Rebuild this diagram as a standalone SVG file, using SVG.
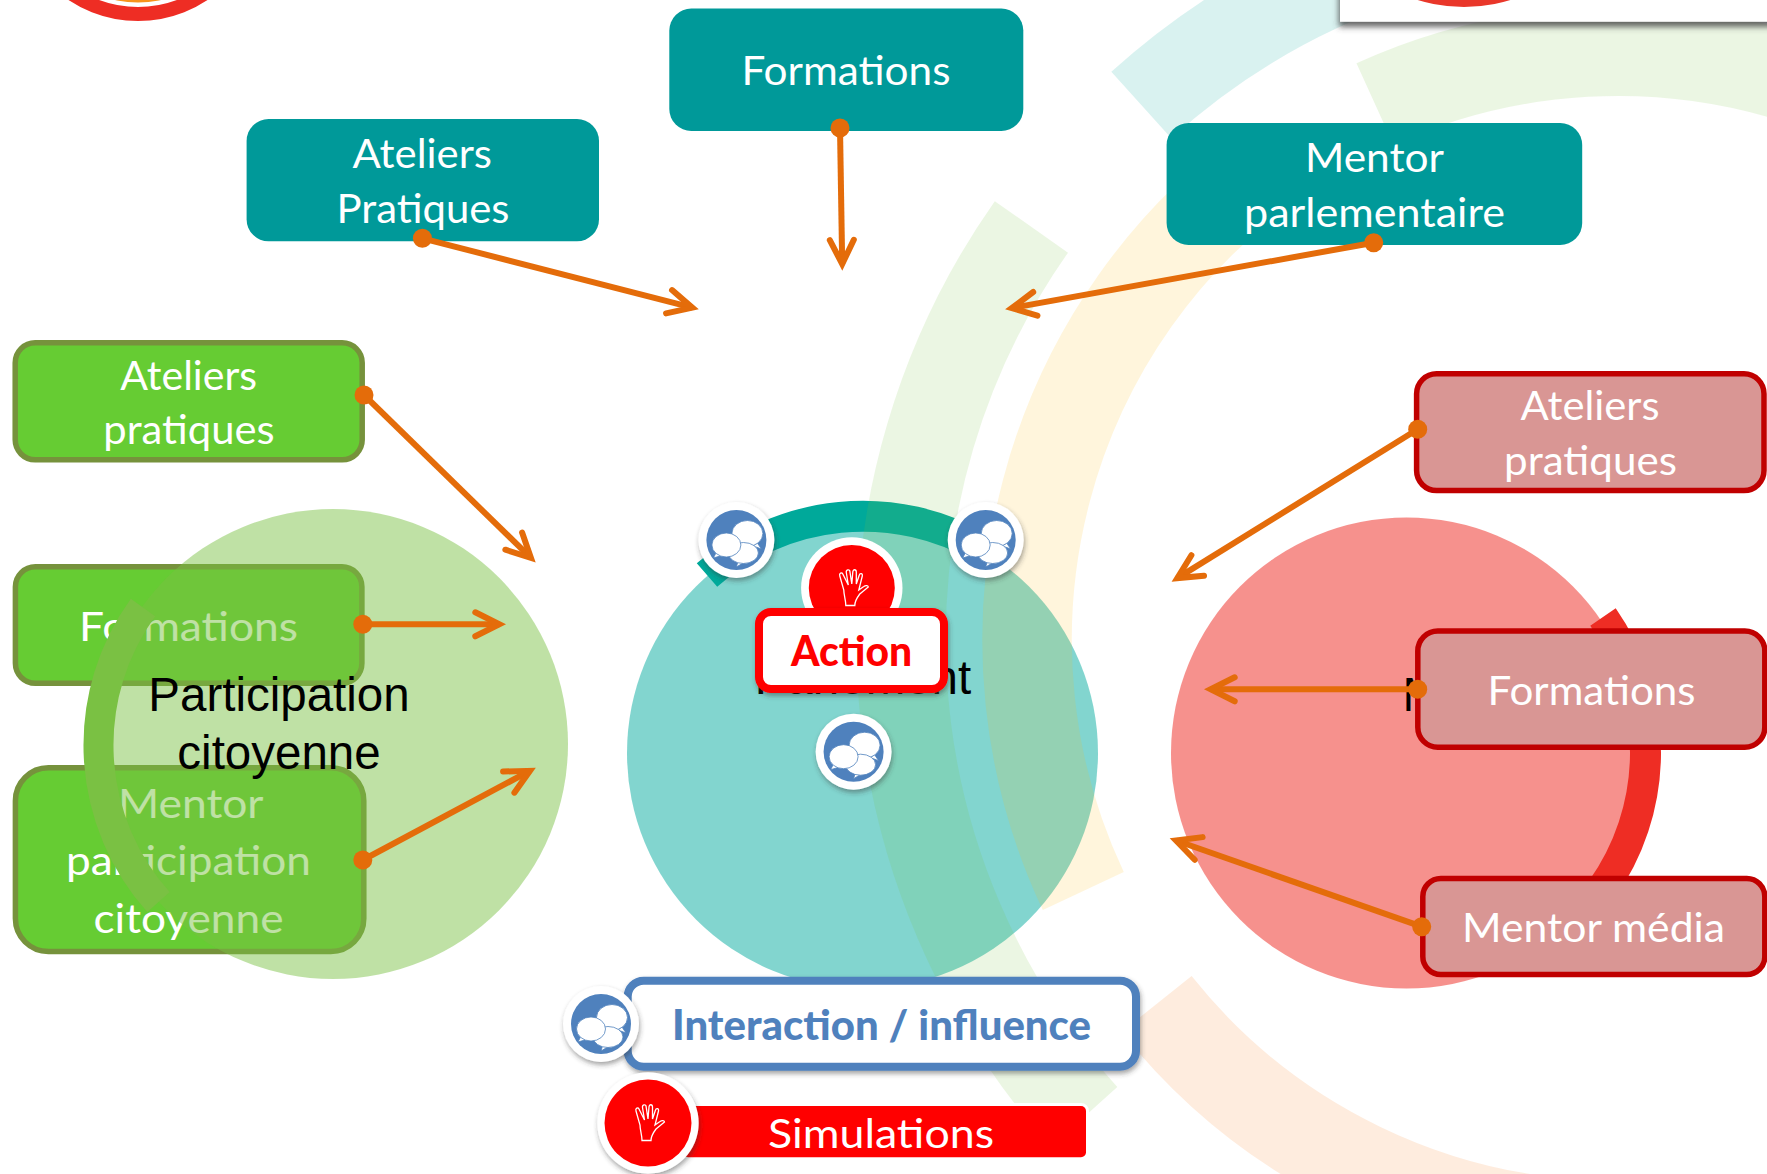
<svg xmlns="http://www.w3.org/2000/svg" xmlns:xlink="http://www.w3.org/1999/xlink" width="1767" height="1174" viewBox="0 0 1767 1174">
<style>
.lb{font-family:"Lato","Carlito","Noto Sans",sans-serif;font-size:41px;fill:#fff;font-weight:400}
.bk{font-family:"Liberation Sans",Arial,sans-serif;font-size:47.5px;fill:#000;text-anchor:middle}
.teal{fill:#009999}
.grn{fill:#66CC33;stroke:#76923C;stroke-width:5.5}
.red{fill:#D99694;stroke:#C00000;stroke-width:5.5}
.arc{fill:none;stroke-width:89.5;opacity:.15}
.con{fill:none;stroke:#E46C0A;stroke-width:6;marker-start:url(#dot);marker-end:url(#head)}
</style>
<defs>
<marker id="head" markerUnits="userSpaceOnUse" viewBox="-30 -16 40 32" markerWidth="40" markerHeight="32" refX="0" refY="0" orient="auto" overflow="visible">
<path d="M-24,-12 L0,0 L-24,12" fill="none" stroke="#E46C0A" stroke-width="6" stroke-linecap="round" stroke-linejoin="miter" stroke-miterlimit="10"/>
</marker>
<marker id="dot" markerUnits="userSpaceOnUse" viewBox="-10 -10 20 20" markerWidth="20" markerHeight="20" refX="0" refY="0" orient="0">
<circle r="9.5" fill="#E46C0A"/>
</marker>
<filter id="sh" x="-20%" y="-20%" width="140%" height="150%"><feDropShadow dx="1" dy="3" stdDeviation="2.5" flood-color="#333" flood-opacity=".45"/></filter>
<filter id="shbox" x="-5%" y="-50%" width="110%" height="220%"><feDropShadow dx="-1" dy="5" stdDeviation="3" flood-color="#444" flood-opacity=".85"/></filter>
<g id="hand"><path d="M-6,17.5 L3,17.5 C3,13 5,10 8,6 L16.5,-1 C16.5,-2.5 14,-3 12,-1.5 L7,2 L10.5,-12 C11,-15 8,-15 7.5,-13 L4.5,-4 L4.5,-16 C4.5,-19 1,-19 1,-16 L0,-4 L-2,-17 C-2.5,-19 -6,-18.5 -5.5,-15.5 L-3.5,-3 L-9,-14 C-10,-16 -13,-15 -12,-12 L-8,2 C-8,7 -6,12 -6,17.5 Z" fill="none" stroke="#fff" stroke-width="1.3"/></g>
<g id="bubble">
<circle r="38" fill="#fff" filter="url(#sh)"/>
<circle r="30" fill="#4F81BD"/>
<g fill="#fff" stroke="#4F81BD" stroke-width=".8">
<path d="M21,3 L25,9 L17,6 Z"/>
<ellipse cx="11" cy="-6.5" rx="15.5" ry="13"/>
<path d="M2,20 L0,27 L10,21 Z"/>
<ellipse cx="7" cy="13" rx="15" ry="10.5"/>
<path d="M-20,12 L-23,18 L-13,15 Z"/>
<ellipse cx="-10" cy="5" rx="14.5" ry="12"/>
</g>
</g>
</defs>
<rect width="1767" height="1174" fill="#fff"/>

<g id="deco-top-left">
<circle cx="138" cy="-104.5" r="107" fill="#F7941D"/>
<circle cx="138" cy="-104.5" r="118.5" fill="none" stroke="#EE2D24" stroke-width="14"/>
</g>

<g id="node-green-ateliers">
<rect class="grn" x="15.2" y="342.8" width="347" height="117" rx="20"/>
<text class="lb" x="120.3" y="390" textLength="136.7" lengthAdjust="spacingAndGlyphs">Ateliers</text>
<text class="lb" x="103.3" y="444" textLength="171.3" lengthAdjust="spacingAndGlyphs">pratiques</text>
</g>
<g id="node-green-formations">
<rect class="grn" x="15.4" y="566.8" width="346.5" height="116.5" rx="20"/>
<text class="lb" x="79" y="640.5" textLength="219" lengthAdjust="spacingAndGlyphs">Formations</text>
</g>
<g id="node-green-mentor">
<rect class="grn" x="15.4" y="767.8" width="348.4" height="183.7" rx="33"/>
<text class="lb" x="118" y="817.5" textLength="145.5" lengthAdjust="spacingAndGlyphs">Mentor</text>
<text class="lb" x="66" y="875" textLength="245" lengthAdjust="spacingAndGlyphs">participation</text>
<text class="lb" x="93.5" y="933.3" textLength="190" lengthAdjust="spacingAndGlyphs">citoyenne</text>
</g>

<g id="participation">
<circle cx="333" cy="744" r="235" fill="#7AC143" opacity=".48"/>
<path d="M143,607.5 A235 235 0 0 0 158.5,902" fill="none" stroke="#7AC143" stroke-width="30"/>
</g>
<g id="parlement">
<circle cx="862.5" cy="753" r="235.5" fill="#00A99D" opacity=".49"/>
<path d="M707,575 A236.5 236.5 0 0 1 981.4,548" fill="none" stroke="#00A99A" stroke-width="31"/>
<text class="bk" x="863" y="694">Parlement</text>
</g>
<g id="medias">
<circle cx="1406.5" cy="753" r="235.5" fill="#EE2D24" opacity=".52"/>
<path d="M1603,617 A237 237 0 0 1 1601.5,890" fill="none" stroke="#EE2D24" stroke-width="31"/>
<text class="bk" style="text-anchor:start" x="1402.5" y="711">M</text>
</g>

<g id="large-arcs">
<path class="arc" stroke="#7AC143" d="M1084,1117 A716 716 0 0 1 1031.4,226.9"/>
<path class="arc" stroke="#00A99D" d="M1141.3,105 A716 716 0 0 1 1400,-44.6"/>
<path class="arc" stroke="#FDB913" d="M1083.3,891 A587.5 587.5 0 0 1 1274.6,161"/>
<path class="arc" stroke="#7AC143" d="M1375,104 A588 588 0 0 1 1800,80"/>
<path class="arc" stroke="#F58220" d="M1156.6,1004 A587.5 587.5 0 0 0 1616,1225.5"/>
</g>

<g id="deco-top-right">
<rect x="1340" y="-20" width="460" height="41.7" fill="#fff" filter="url(#shbox)"/>
<circle cx="1464" cy="-150" r="157" fill="#E9372A"/>
</g>

<g id="node-formations">
<rect class="teal" x="669.3" y="8.6" width="354" height="122.4" rx="22"/>
<text class="lb" x="741.5" y="85" textLength="209" lengthAdjust="spacingAndGlyphs">Formations</text>
</g>
<g id="node-ateliers-pratiques">
<rect class="teal" x="246.6" y="119" width="352.4" height="122.3" rx="22"/>
<text class="lb" x="352.5" y="167.7" textLength="139.5" lengthAdjust="spacingAndGlyphs">Ateliers</text>
<text class="lb" x="336.5" y="222.7" textLength="173" lengthAdjust="spacingAndGlyphs">Pratiques</text>
</g>
<g id="node-mentor-parlementaire">
<rect class="teal" x="1166.6" y="123" width="415.6" height="122" rx="22"/>
<text class="lb" x="1305" y="171.7" textLength="139" lengthAdjust="spacingAndGlyphs">Mentor</text>
<text class="lb" x="1244" y="226.7" textLength="261" lengthAdjust="spacingAndGlyphs">parlementaire</text>
</g>

<g id="node-red-ateliers">
<rect class="red" x="1416.6" y="373.8" width="347.4" height="116.8" rx="20"/>
<text class="lb" x="1520.5" y="420" textLength="139" lengthAdjust="spacingAndGlyphs">Ateliers</text>
<text class="lb" x="1504" y="475" textLength="173" lengthAdjust="spacingAndGlyphs">pratiques</text>
</g>
<g id="node-red-formations">
<rect class="red" x="1417.8" y="631" width="347" height="116.2" rx="20"/>
<text class="lb" x="1487.5" y="704.5" textLength="208" lengthAdjust="spacingAndGlyphs">Formations</text>
</g>
<g id="node-red-mentor">
<rect class="red" x="1422.8" y="878.5" width="342" height="96" rx="18"/>
<text class="lb" x="1462" y="941.7" textLength="263" lengthAdjust="spacingAndGlyphs">Mentor média</text>
</g>

<g id="bubble-1"><use href="#bubble" x="736.4" y="540"/></g>
<g id="bubble-2"><use href="#bubble" x="985.7" y="540"/></g>
<g id="bubble-3"><use href="#bubble" x="853.6" y="751.7"/></g>

<g id="node-action">
<circle cx="851.8" cy="588" r="50.7" fill="#fff"/>
<circle cx="851.8" cy="588" r="43" fill="#FF0000"/>
<use href="#hand" x="851.8" y="588"/>
<rect x="759" y="612" width="185" height="77" rx="12" fill="#fff" stroke="#FF0000" stroke-width="8" filter="url(#sh)"/>
<text x="791" y="666" font-family="Lato,Carlito,'Noto Sans',sans-serif" font-size="42" font-weight="900" fill="#FF0000" textLength="121" lengthAdjust="spacingAndGlyphs">Action</text>
</g>

<g id="node-interaction">
<rect x="627.7" y="980.7" width="508.3" height="86" rx="16" fill="#fff" stroke="#4F81BD" stroke-width="8" filter="url(#sh)"/>
<text x="672" y="1040" font-family="Lato,Carlito,'Noto Sans',sans-serif" font-size="42" font-weight="900" fill="#4F81BD" textLength="419" lengthAdjust="spacingAndGlyphs">Interaction / influence</text>
<use href="#bubble" x="601" y="1024"/>
</g>

<g id="node-simulations">
<rect x="683" y="1106" width="403" height="51.3" rx="5" fill="#FF0000" stroke="#fff" stroke-width="6" paint-order="stroke"/>
<text class="lb" x="768" y="1147.5" textLength="226" lengthAdjust="spacingAndGlyphs">Simulations</text>
<circle cx="648" cy="1123" r="50.7" fill="#fff" filter="url(#sh)"/>
<circle cx="648" cy="1123" r="43.5" fill="#FF0000"/>
<use href="#hand" x="648" y="1123"/>
</g>

<g id="participation-label">
<text class="bk" x="279" y="711">Participation</text>
<text class="bk" x="279" y="769">citoyenne</text>
</g>

<g id="connectors">
<path class="con" d="M840,128 L842.2,264"/>
<path class="con" d="M422.4,238.3 L692.3,307.7"/>
<path class="con" d="M1373.7,242.7 L1011.7,308.1"/>
<path class="con" d="M364,395 L530.9,557.9"/>
<path class="con" d="M362.8,624.3 L499.3,624.3"/>
<path class="con" d="M362.8,860 L529.9,770.8"/>
<path class="con" d="M1417.7,429.3 L1177.3,578.1"/>
<path class="con" d="M1417.7,689.3 L1210.7,689.3"/>
<path class="con" d="M1421.7,926.7 L1176,840.5"/>
</g>
</svg>
